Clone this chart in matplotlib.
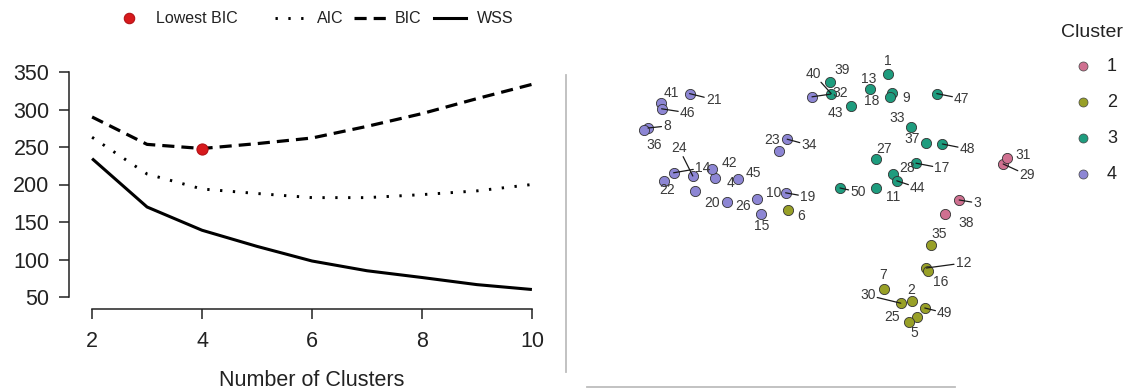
import matplotlib
matplotlib.use("Agg")
import matplotlib.pyplot as plt
from matplotlib.lines import Line2D

plt.rcParams['font.family'] = ['Liberation Sans', 'DejaVu Sans']

# ---- Model selection criteria by number of clusters ----
k_values = [2, 3, 4, 5, 6, 7, 8, 9, 10]
aic = [263, 214, 194, 188, 182.5, 182.5, 186.5, 191.5, 200]
bic = [290, 253.5, 248, 254.5, 262, 277.5, 294.5, 314.5, 333.5]
wss = [234.5, 170, 139, 117.5, 98, 85, 76, 66.5, 60]
best_k = 4
x_ticks = [2, 4, 6, 8, 10]
y_ticks = [50, 100, 150, 200, 250, 300, 350]

# ---- Cluster map (observations 1..50) ----
point_ids = list(range(1, 51))
dim1 = [1.10, 1.40, 1.99, -1.06, 1.46, -0.15, 1.05, -1.90, 1.15, -0.54,
        0.95, 1.58, 0.88, -1.58, -0.49, 1.60, 1.45, 1.13, -0.18, -1.31,
        -1.38, -1.70, -0.26, -1.34, 1.36, -0.91, 0.95, 1.16, 2.54, 1.26,
        2.59, 0.15, 1.39, -0.16, 1.64, -1.95, 1.58, 1.81, 0.38, 0.39,
        -1.74, -1.10, 0.64, 1.21, -0.78, -1.73, 1.71, 1.78, 1.56, 0.50]
dim2 = [1.58, -1.26, 0.00, 0.28, -1.46, -0.13, -1.11, 0.90, 1.34, 0.01,
        0.15, -0.85, 1.39, 0.34, -0.18, -0.89, 0.46, 1.29, 0.09, 0.11,
        1.33, 0.24, 0.61, 0.30, -1.53, -0.03, 0.51, 0.33, 0.45, -1.29,
        0.53, 1.29, 0.91, 0.76, -0.56, 0.88, 0.71, -0.18, 1.48, 1.33,
        1.21, 0.39, 1.18, 0.24, 0.26, 1.14, 1.33, 0.70, -1.35, 0.15]
cluster = [3, 2, 1, 4, 2, 2, 2, 4, 3, 4, 3, 2, 3, 4, 4, 2, 3, 3, 4, 4,
           4, 4, 4, 4, 2, 4, 3, 3, 1, 2, 1, 4, 3, 4, 2, 4, 3, 1, 3, 3,
           4, 4, 3, 3, 4, 4, 3, 3, 2, 3]
cluster_names = ['1', '2', '3', '4']

cluster_colors = {1: '#CF7090', 2: '#98A027', 3: '#1E9C7E', 4: '#8D86D4'}

# label placement (pixel offset from point, up positive) and whether a leader segment is drawn
label_offsets = {
    1: (0, 13, False), 2: (-1, 11, False), 3: (18, -3, True), 4: (15, -5, False),
    5: (-2, -16, False), 6: (13, -6, False), 7: (-1, 14, False), 8: (19, 2, True),
    9: (14, -5, False), 10: (17, 6, False), 11: (17, -9, False), 12: (37, 5, True),
    13: (-2, 10, False), 14: (29, 5, True), 15: (1, -12, False), 16: (13, -11, False),
    17: (26, -5, True), 18: (-19, -4, False), 19: (22, -4, True), 20: (17, -12, False),
    21: (24, -6, True), 22: (3, -9, False), 23: (-7, 11, False), 24: (-14, 28, True),
    25: (-17, 5, False), 26: (16, -4, False), 27: (8, 10, False), 28: (14, 6, False),
    29: (24, -11, True), 30: (-33, 8, True), 31: (16, 3, False), 32: (28, 4, True),
    33: (-14, 9, False), 34: (22, -6, True), 35: (8, 11, False), 36: (10, -15, False),
    37: (-14, 4, False), 38: (21, -9, False), 39: (12, 12, False), 40: (-18, 20, True),
    41: (11, 10, False), 42: (17, 6, False), 43: (-16, -7, False), 44: (21, -7, True),
    45: (16, 6, False), 46: (26, -4, True), 47: (25, -5, True), 48: (25, -5, True),
    49: (20, -5, True), 50: (18, -4, True),
}

W, H = 1132, 392
fig = plt.figure(figsize=(W / 100, H / 100), dpi=100)


def frac(left, top, right, bottom):
    return [left / W, 1 - bottom / H, (right - left) / W, (bottom - top) / H]


# ---------------- left panel: criteria curves ----------------
ax = fig.add_axes(frac(69, 60, 555, 309))
ax.plot(k_values, wss, color='black', lw=2.2, solid_capstyle='butt')
ax.plot(k_values, aic, color='black', lw=2.1, linestyle=(0, (0.8, 3.6)))
ax.plot(k_values, bic, color='black', lw=2.3, linestyle=(0, (3.8, 2.2)))
ax.plot([best_k], [bic[k_values.index(best_k)]], 'o', ms=8,
        mfc='#D7191C', mec='#B31217', mew=0.8, zorder=5)
ax.set_xlim(1.58, 10.42)
ax.set_ylim(34, 366)
ax.set_xticks(x_ticks)
ax.set_yticks(y_ticks)
for s in ('top', 'right'):
    ax.spines[s].set_visible(False)
ax.spines['left'].set_bounds(min(y_ticks), max(y_ticks))
ax.spines['bottom'].set_bounds(min(x_ticks), max(x_ticks))
for s in ('left', 'bottom'):
    ax.spines[s].set_linewidth(1.1)
    ax.spines[s].set_color('#222222')
ax.tick_params(axis='both', direction='out', length=7, width=1.1,
               colors='#222222', labelsize=15.5, labelcolor='#222222')
ax.tick_params(axis='y', pad=7)
ax.tick_params(axis='x', pad=9)
ax.patch.set_visible(False)
fig.text(312 / W, 1 - 381 / H, 'Number of Clusters', ha='center', va='center',
         fontsize=15.5, color='#222222')

# ---------------- right panel: cluster map ----------------
ax2 = fig.add_axes(frac(580, 50, 1040, 350))
ax2.set_xlim(-2.75, 3.0)
ax2.set_ylim(-1.875, 1.875)
ax2.axis('off')

for c in sorted(cluster_colors):
    xs = [x for x, g in zip(dim1, cluster) if g == c]
    ys = [y for y, g in zip(dim2, cluster) if g == c]
    ax2.scatter(xs, ys, s=54, color=cluster_colors[c], edgecolors='#333333',
                linewidths=0.6, zorder=3)

for pid, x, y in zip(point_ids, dim1, dim2):
    dx, dy, leader = label_offsets[pid]
    arrow = None
    if leader:
        arrow = dict(arrowstyle='-', color='#1a1a1a', lw=0.9,
                     shrinkA=0, shrinkB=0)
    ax2.annotate(str(pid), xy=(x, y), xytext=(dx, dy),
                 textcoords='offset pixels', ha='center', va='center',
                 fontsize=10, color='#3a3a3a', zorder=4,
                 bbox=dict(boxstyle='square,pad=0.12', fc='none', ec='none'),
                 arrowprops=arrow, annotation_clip=False)

# ---------------- overlay: legends and frame lines ----------------
ov = fig.add_axes([0, 0, 1, 1], zorder=5)
ov.set_xlim(0, W)
ov.set_ylim(H, 0)
ov.axis('off')

# panel divider lines
ov.add_line(Line2D([566, 566], [75, 372], color='#BDBDBD', lw=1.3))
ov.add_line(Line2D([587, 955], [387, 387], color='#BDBDBD', lw=1.3))

# criteria legend
ly = 18
ov.plot([129], [ly], 'o', ms=7.5, mfc='#D7191C', mec='#B31217', mew=0.8)
ov.text(156, ly, 'Lowest BIC', ha='left', va='center', fontsize=11.5, color='#222222')
ov.add_line(Line2D([275, 303], [ly, ly], color='black', lw=2.1, linestyle=(0, (0.8, 3.6))))
ov.text(317, ly, 'AIC', ha='left', va='center', fontsize=11.5, color='#222222')
ov.add_line(Line2D([354, 387], [ly, ly], color='black', lw=2.3, linestyle=(0, (3.8, 2.2))))
ov.text(395, ly, 'BIC', ha='left', va='center', fontsize=11.5, color='#222222')
ov.add_line(Line2D([434, 466], [ly, ly], color='black', lw=2.2))
ov.text(477, ly, 'WSS', ha='left', va='center', fontsize=11.5, color='#222222')

# cluster legend
ov.text(1092, 32, 'Cluster', ha='center', va='center', fontsize=14, color='#222222')
for i, name in enumerate(cluster_names):
    yy = 66 + i * 36
    ov.plot([1083], [yy], 'o', ms=6.5, mfc=cluster_colors[i + 1], mec='#444444', mew=0.5)
    ov.text(1107, yy, name, ha='left', va='center', fontsize=13, color='#222222')

fig.savefig('out.png', dpi=100)
